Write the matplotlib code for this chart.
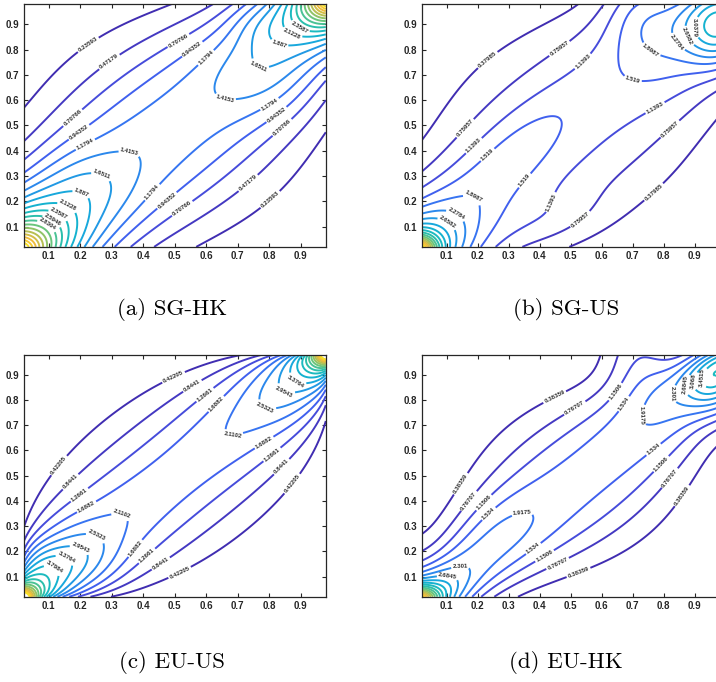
import numpy as np
import matplotlib
matplotlib.use("Agg")
import matplotlib.pyplot as plt
from matplotlib.colors import LinearSegmentedColormap, Normalize
from matplotlib.path import Path
from statistics import NormalDist

# ---- values ----
PANEL_TITLES = ['(a) SG-HK', '(b) SG-US', '(c) EU-US', '(d) EU-HK']

LEVELS_A = [0.23593, 0.47179, 0.70766, 0.94352, 1.1794, 1.4153, 1.6511, 1.887,
            2.1228, 2.3587, 2.5946, 2.8304, 3.0663, 3.3021, 3.538, 3.7738,
            4.0097, 4.2456, 4.4814]
LEVELS_B = [0.37985, 0.75957, 1.1393, 1.519, 1.8987, 2.2784, 2.6582, 3.0379,
            3.4177, 3.7975, 4.1772, 4.5569, 4.9367, 5.3164, 5.6961, 6.0759,
            6.4556, 6.8353, 7.2151]
LEVELS_C = [0.42205, 0.8441, 1.2661, 1.6882, 2.1102, 2.5323, 2.9543, 3.3764,
            3.7984, 4.2205, 4.6425, 5.0645, 5.4866, 5.9086, 6.3307, 6.7527,
            7.1748, 7.5968, 8.0189]
LEVELS_D = [0.38359, 0.76707, 1.1506, 1.534, 1.9175, 2.301, 2.6845, 3.068,
            3.4515, 3.835, 4.2185, 4.602, 4.9855, 5.369, 5.7525, 6.136,
            6.5195, 6.903, 7.2865]
ZMAX = [4.717, 7.595, 8.441, 7.670]

# density surface = gaussian copula part + diagonal band + corner peaks + bumps
GAUSS_WEIGHT = [0.0, 0.0, 1.0, 0.0]
GAUSS_RHO = [0.5, 0.5, 0.8, 0.5]
BAND_AMP = [1.3, 1.25, 0.3, 1.7]
BAND_WIDTH = [0.225, 0.24, 0.08, 0.18]
BAND_SHIFT = [0.0, 0.0, 0.0, -0.03]
BAND_TAPER = [1.0, 1.2, 0.0, 1.5]
# corner peaks: (u, v, decay length, height)
CORNERS_A = [(0.0, 0.0, 0.14, 4.3), (1.0, 1.0, 0.10, 4.6)]
CORNERS_B = [(0.0, 0.0, 0.115, 5.2)]
CORNERS_C = []
CORNERS_D = [(0.0, 0.0, 0.09, 5.5)]
# bumps: (u, v, spread 1, spread 2, angle of spread 1 in degrees, height)
BUMPS_A = [(0.80, 0.68, 0.12, 0.12, 0, 0.25),
           (0.77, 0.90, 0.07, 0.07, 0, 0.20),
           (0.22, 0.28, 0.10, 0.10, 0, 0.15)]
BUMPS_B = [(0.00, 0.00, 0.04, 0.04, 0, 3.0),
           (0.32, 0.40, 0.20, 0.08, 50, 0.45),
           (0.45, 0.12, 0.12, 0.07, 25, 0.30),
           (0.72, 0.98, 0.08, 0.12, 0, 0.60),
           (0.90, 0.90, 0.20, 0.20, 0, 0.70),
           (0.99, 0.88, 0.08, 0.10, 0, 2.00)]
BUMPS_C = [(0.20, 0.17, 0.09, 0.09, 0, 0.45),
           (0.08, 0.16, 0.06, 0.06, 0, 0.40),
           (0.82, 0.80, 0.06, 0.06, 0, 0.10)]
BUMPS_D = [(0.00, 0.00, 0.04, 0.04, 0, 2.5),
           (0.27, 0.29, 0.13, 0.09, 45, 0.32),
           (0.72, 0.98, 0.08, 0.12, 0, 0.80),
           (0.90, 0.90, 0.20, 0.20, 0, 0.35),
           (0.99, 0.88, 0.08, 0.10, 0, 2.00)]

LEVELS = [LEVELS_A, LEVELS_B, LEVELS_C, LEVELS_D]
CORNERS = [CORNERS_A, CORNERS_B, CORNERS_C, CORNERS_D]
BUMPS = [BUMPS_A, BUMPS_B, BUMPS_C, BUMPS_D]

TICKS = [0.1, 0.2, 0.3, 0.4, 0.5, 0.6, 0.7, 0.8, 0.9]
TICK_LABELS = ['0.1', '0.2', '0.3', '0.4', '0.5', '0.6', '0.7', '0.8', '0.9']

# MATLAB parula, approximated: (position, colour)
PARULA = [(0.00, '#3e26a8'), (0.08, '#4232b8'), (0.14, '#4748d8'),
          (0.20, '#4060ee'), (0.26, '#3479f2'), (0.32, '#2690e8'),
          (0.40, '#18a8dc'), (0.48, '#14b8c8'), (0.56, '#30c0a8'),
          (0.66, '#70c678'), (0.76, '#bcbf50'), (0.86, '#f4bc3a'),
          (0.94, '#f8d82c'), (1.00, '#f9fb0e')]

plt.rcParams['font.family'] = 'Liberation Sans'
plt.rcParams['font.weight'] = 'bold'

grid = np.linspace(0.02, 0.98, 241)
U, V = np.meshgrid(grid, grid)
nd = NormalDist()
xs = np.array([nd.inv_cdf(p) for p in grid])
X, Y = np.meshgrid(xs, xs)


def surface(i):
    rho = GAUSS_RHO[i]
    q = (rho ** 2 * (X ** 2 + Y ** 2) - 2 * rho * X * Y) / (2 * (1 - rho ** 2))
    z = GAUSS_WEIGHT[i] * np.exp(-q) / np.sqrt(1 - rho ** 2)
    d = (V - U) / np.sqrt(2) - BAND_SHIFT[i]
    w = BAND_WIDTH[i] * np.exp(-BAND_TAPER[i] * (U + V - 1) ** 2)
    z = z + BAND_AMP[i] * np.exp(-d ** 2 / (2 * w ** 2))
    for u0, v0, length, a in CORNERS[i]:
        z = z + a * np.exp(-np.hypot(U - u0, V - v0) / length)
    for u0, v0, s1, s2, ang, a in BUMPS[i]:
        c, s = np.cos(np.radians(ang)), np.sin(np.radians(ang))
        p = (U - u0) * c + (V - v0) * s
        r = -(U - u0) * s + (V - v0) * c
        z = z + a * np.exp(-p ** 2 / (2 * s1 ** 2) - r ** 2 / (2 * s2 ** 2))
    return z


def label_points(ax, cs, spacing=120, min_len=50):
    # spread labels along each line, roughly like MATLAB's LabelSpacing
    pts = []
    for path in cs.get_paths():
        if path.codes is None or len(path.vertices) == 0:
            continue
        codes = path.codes
        starts = list(np.flatnonzero(codes == Path.MOVETO)) + [len(codes)]
        for a, b in zip(starts[:-1], starts[1:]):
            seg = path.vertices[a:b][codes[a:b] != Path.CLOSEPOLY]
            if len(seg) < 3:
                continue
            disp = ax.transData.transform(seg)
            cum = np.concatenate([[0], np.cumsum(np.hypot(*np.diff(disp, axis=0).T))])
            total = cum[-1]
            if total < min_len:
                continue
            n = max(1, int(total // spacing))
            for k in range(n):
                j = min(np.searchsorted(cum, (k + 0.5) * total / n), len(seg) - 1)
                x, y = seg[j]
                if 0.045 < x < 0.955 and 0.045 < y < 0.955:
                    pts.append((x, y))
    return pts


parula = LinearSegmentedColormap.from_list('parula', PARULA)

fig = plt.figure(figsize=(7.16, 6.82), dpi=100)
# axes boxes in figure fractions (left, bottom, width, height)
boxes = [(0.033, 0.638, 0.422, 0.356), (0.589, 0.638, 0.416, 0.356),
         (0.033, 0.125, 0.422, 0.355), (0.589, 0.125, 0.416, 0.355)]
captions = [(0.240, 0.5455), (0.790, 0.5455), (0.240, 0.0293), (0.790, 0.0293)]

for i in range(4):
    ax = fig.add_axes(boxes[i])
    Z = surface(i)
    cs = ax.contour(U, V, Z, levels=LEVELS[i], cmap=parula,
                    norm=Normalize(0, ZMAX[i]), linewidths=1.4)
    ax.set_xlim(0.02, 0.98)
    ax.set_ylim(0.02, 0.98)
    ax.clabel(cs, manual=label_points(ax, cs), fmt='%.5g', fontsize=4.4,
              inline=True, inline_spacing=1.5, colors='#303030')
    ax.set_xticks(TICKS)
    ax.set_xticklabels(TICK_LABELS)
    ax.set_yticks(TICKS)
    ax.set_yticklabels(TICK_LABELS)
    ax.tick_params(direction='in', top=True, right=True, length=3, width=0.8,
                   labelsize=7, colors='#262626', pad=3)
    for sp in ax.spines.values():
        sp.set_linewidth(0.9)
        sp.set_color('#262626')
    fig.text(captions[i][0], captions[i][1], PANEL_TITLES[i], family='cmr10',
             weight='normal', fontsize=16.5, ha='center', va='center')

fig.savefig('out.png', dpi=100, facecolor='white')
